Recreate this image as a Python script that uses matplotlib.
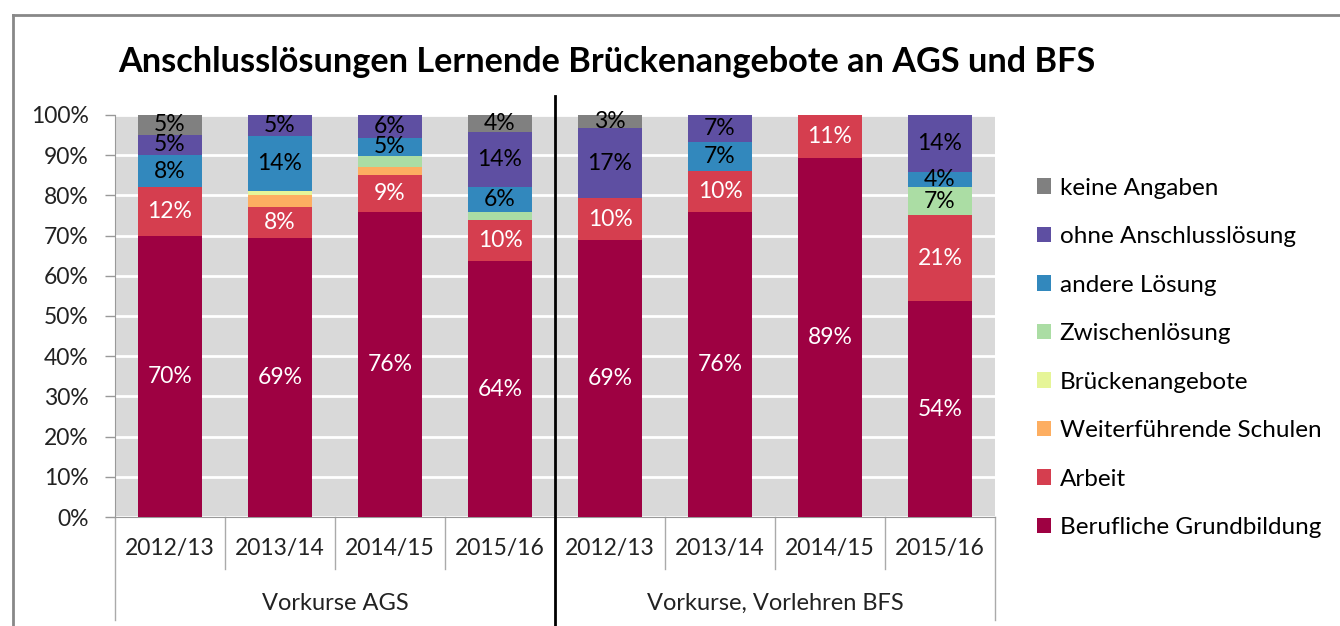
import numpy as np
import matplotlib
matplotlib.use("Agg")
import matplotlib.pyplot as plt
from matplotlib.lines import Line2D
from matplotlib.patches import Patch
import matplotlib.transforms as mtransforms

plt.rcParams['font.family'] = ['Lato', 'DejaVu Sans']

years = ["2012/13", "2013/14", "2014/15", "2015/16",
         "2012/13", "2013/14", "2014/15", "2015/16"]
groups = ["Vorkurse AGS", "Vorkurse, Vorlehren BFS"]

# series, bottom to top (percent)
grundbildung = [69.9, 69.3, 75.8, 63.6, 68.9, 75.9, 89.4, 53.7]
arbeit = [12.1, 7.9, 9.3, 10.3, 10.4, 10.2, 10.6, 21.3]
weiterf_schulen = [0, 2.9, 1.9, 0, 0, 0, 0, 0]
brueckenangebote = [0, 1.1, 0, 0, 0, 0, 0, 0]
zwischenloesung = [0, 0, 2.8, 1.9, 0, 0, 0, 7.0]
andere_loesung = [8.0, 13.6, 4.6, 6.4, 0, 7.1, 0, 3.9]
ohne_anschluss = [5.1, 5.2, 5.6, 13.6, 17.4, 6.8, 0, 14.1]
keine_angaben = [4.9, 0, 0, 4.2, 3.3, 0, 0, 0]

series = [
    ("Berufliche Grundbildung", grundbildung, "#9E0142", "white"),
    ("Arbeit", arbeit, "#D53E4F", "white"),
    ("Weiterführende Schulen", weiterf_schulen, "#FDAE61", "black"),
    ("Brückenangebote", brueckenangebote, "#E6F598", "black"),
    ("Zwischenlösung", zwischenloesung, "#ABDDA4", "black"),
    ("andere Lösung", andere_loesung, "#3288BD", "black"),
    ("ohne Anschlusslösung", ohne_anschluss, "#5E4FA2", "black"),
    ("keine Angaben", keine_angaben, "#808080", "black"),
]

W, H = 1340, 626
fig = plt.figure(figsize=(W / 100, H / 100), dpi=100)
ax = fig.add_axes([115 / W, (H - 517) / H, 880 / W, 402 / H])
ax.set_facecolor("#D9D9D9")

x = np.arange(len(years))
bottom = np.zeros(len(years))
for name, vals, col, tcol in series:
    vals = np.array(vals, dtype=float)
    ax.bar(x, vals, 0.59, bottom=bottom, color=col, zorder=3)
    for xi, b, v in zip(x, bottom, vals):
        if v >= 3:
            ax.text(xi, b + v / 2, "%d%%" % round(v), ha="center", va="center",
                    color=tcol, fontsize=16.5, zorder=4)
    bottom += vals

ax.set_xlim(-0.5, len(years) - 0.5)
ax.set_ylim(0, 100)
ax.set_yticks(np.arange(0, 101, 10))
ax.set_yticklabels(["%d%%" % v for v in range(0, 101, 10)], fontsize=16.5, color="#222222")
ax.yaxis.grid(True, color="white", linewidth=2, zorder=1)
ax.set_axisbelow(True)
ax.tick_params(axis="y", length=7, width=1, color="#999999", pad=12)
ax.set_xticks([])
for s in ["top", "right"]:
    ax.spines[s].set_visible(False)
ax.spines["left"].set_color("#999999")
ax.spines["bottom"].set_color("#999999")

# category axis: year labels, separators, group labels
trans = mtransforms.blended_transform_factory(ax.transData, ax.transAxes)
for xi, lab in zip(x, years):
    ax.text(xi, -32 / 402, lab, transform=trans, ha="center", va="center",
            fontsize=16.5, color="#222222")
for xs in np.arange(-0.5, len(years), 1.0):
    if xs in (-0.5, len(years) - 0.5):
        y1 = -103 / 402
    else:
        y1 = -52 / 402
    ax.add_line(Line2D([xs, xs], [0, y1], transform=trans, color="#AAAAAA",
                       linewidth=1, clip_on=False))
for gi, g in enumerate(groups):
    ax.text(1.5 + 4 * gi, -86 / 402, g, transform=trans, ha="center", va="center",
            fontsize=17, color="#222222")
ax.add_line(Line2D([3.5, 3.5], [-115 / 402, 421 / 402], transform=trans,
                   color="black", linewidth=2, clip_on=False, zorder=5))

# legend
handles = [Patch(facecolor=c, label=n) for n, v, c, t in series][::-1]
fig.legend(handles=handles, loc="upper left", bbox_to_anchor=(1027 / W, 1 - 168 / H),
           frameon=False, fontsize=17.5, handlelength=0.6, handleheight=0.6,
           handletextpad=0.35, labelspacing=1.13, borderaxespad=0)

fig.text(118 / W, 1 - 62 / H, "Anschlusslösungen Lernende Brückenangebote an AGS und BFS",
         fontsize=24.7, fontweight="bold", va="center", ha="left")

# outer chart frame
fig.add_artist(Line2D([13 / W, 13 / W], [0, 1 - 15 / H], color="#888888", linewidth=2))
fig.add_artist(Line2D([13 / W, 1], [1 - 15 / H, 1 - 15 / H], color="#888888", linewidth=2))

fig.savefig("out.png", dpi=100)
